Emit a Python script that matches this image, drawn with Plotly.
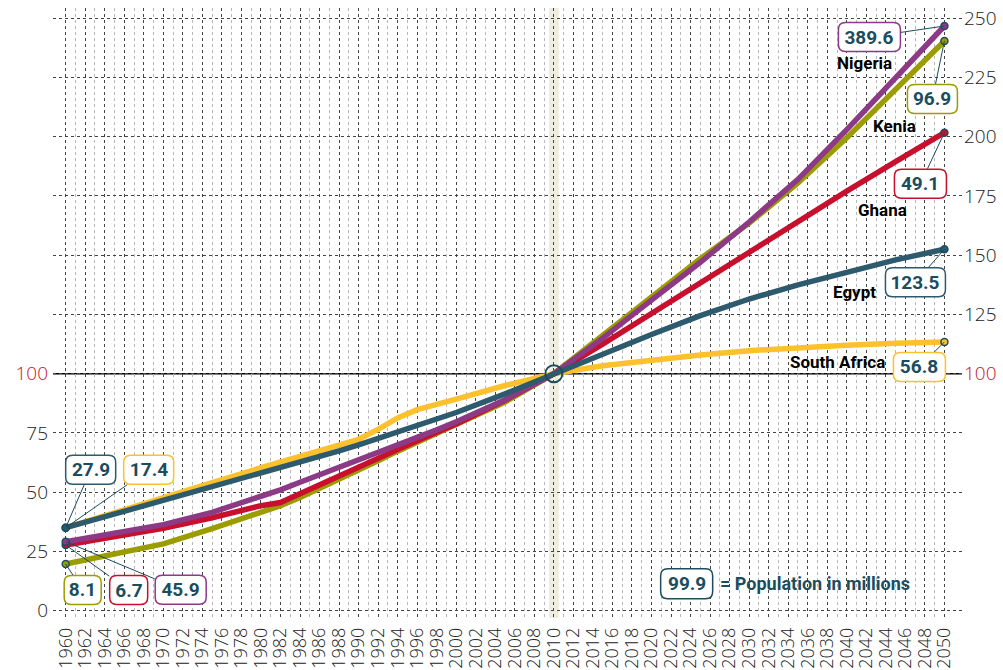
import plotly.graph_objects as go

# ---------------- data (index, 2010 = 100) ----------------
years = [1960, 1965, 1970, 1975, 1980, 1982, 1984, 1986, 1988, 1990, 1992, 1994, 1996,
         1998, 2000, 2005, 2010, 2015, 2020, 2025, 2030, 2035, 2040, 2045, 2050]

south_africa = [35.0, 41.5, 47.8, 54.0, 60.3, 62.7, 65.3, 67.7, 69.8, 72.3, 76.5, 81.3, 84.8,
                87.3, 89.3, 95.0, 100.0, 103.3, 105.8, 107.9, 109.7, 111.0, 112.0, 112.8, 113.4]
kenya = [19.7, 23.8, 28.2, 34.6, 41.3, 44.3, 47.8, 51.5, 55.3, 59.1, 63.2, 67.3, 71.0,
         74.6, 78.2, 88.0, 100.0, 116.0, 132.5, 148.5, 163.5, 180.5, 199.5, 220.0, 240.4]
ghana = [27.7, 31.3, 34.8, 39.2, 44.3, 45.6, 49.4, 53.4, 57.0, 60.8, 64.3, 68.0, 71.7,
         75.3, 78.8, 88.8, 100.0, 112.5, 125.5, 138.0, 151.0, 164.0, 177.0, 189.5, 201.7]
nigeria = [29.1, 32.5, 36.3, 41.5, 48.0, 51.0, 54.2, 57.3, 60.3, 63.3, 66.5, 69.7, 73.0,
           76.3, 79.7, 89.0, 100.0, 115.0, 131.0, 147.0, 164.0, 182.0, 203.0, 225.0, 246.7]
egypt = [35.0, 40.8, 46.3, 52.0, 58.0, 60.3, 62.3, 65.0, 67.4, 70.0, 72.8, 75.6, 78.3,
         81.0, 83.6, 91.5, 100.0, 108.5, 116.5, 124.5, 131.5, 137.5, 143.0, 148.0, 152.5]

names = ["South Africa", "Kenia", "Ghana", "Nigeria", "Egypt"]
series = [south_africa, kenya, ghana, nigeria, egypt]
pop_1960 = ["17.4", "8.1", "6.7", "45.9", "27.9"]     # millions
pop_2050 = ["56.8", "96.9", "49.1", "389.6", "123.5"]  # millions

left_ticks = [0, 25, 50, 75, 100, 125, 150, 175, 200, 225, 250]
right_ticks = [100, 125, 150, 175, 200, 225, 250]
x_ticks = list(range(1960, 2051, 2))
x_minor = list(range(1961, 2050, 2))
base_year = 2010
base_value = 100
legend_value = "99.9"
legend_text = "= Population in millions"

# ---------------- style ----------------
colors = {"South Africa": "#fcc12d", "Kenia": "#9b9c00", "Ghana": "#c8102e",
          "Nigeria": "#8d3a86", "Egypt": "#2d5a6c"}
TEAL = "#1b4d5e"
RED = "#c8102e"
COND = "Liberation Sans Narrow, Roboto, sans-serif"
TICKF = "Open Sans, Lato, sans-serif"

# label layout (pixel offsets: dx right, dy down, box width)
end_lab = {"Nigeria": (-75, 11, 62), "Kenia": (-12, 58, 50), "Ghana": (-24, 51, 52),
           "Egypt": (-29, 33, 60), "South Africa": (-25, 25, 52)}
start_lab = {"Egypt": (25, -58, 50), "South Africa": (83, -58, 50), "Kenia": (17, 26, 37),
             "Ghana": (63, 45, 38), "Nigeria": (115, 48, 51)}
name_off = {"Nigeria": (-80, 37), "Kenia": (-50, 85), "Ghana": (-62, 77),
            "Egypt": (-90, 43), "South Africa": (-107, 20)}
BOX_H = 29
LEGEND_ANCHOR = (2023.6, 11.3)


def rounded(cx, cy, w, h, r=7):
    hw, hh = w / 2, h / 2
    return (f"M{cx-hw+r},{cy-hh} L{cx+hw-r},{cy-hh} Q{cx+hw},{cy-hh} {cx+hw},{cy-hh+r} "
            f"L{cx+hw},{cy+hh-r} Q{cx+hw},{cy+hh} {cx+hw-r},{cy+hh} L{cx-hw+r},{cy+hh} "
            f"Q{cx-hw},{cy+hh} {cx-hw},{cy+hh-r} L{cx-hw},{cy-hh+r} Q{cx-hw},{cy-hh} {cx-hw+r},{cy-hh} Z")


fig = go.Figure()

for name, vals in zip(names, series):
    fig.add_trace(go.Scatter(x=years, y=vals, mode="lines", name=name,
                             line=dict(color=colors[name], width=5.5),
                             hoverinfo="skip", showlegend=False))
for name, vals in zip(names, series):
    fig.add_trace(go.Scatter(x=[years[0], years[-1]], y=[vals[0], vals[-1]], mode="markers",
                             marker=dict(size=7, color=colors[name], line=dict(color=TEAL, width=1.5)),
                             hoverinfo="skip", showlegend=False))

# base circle
fig.add_trace(go.Scatter(x=[base_year], y=[base_value], mode="markers",
                         marker=dict(size=17, color="rgba(0,0,0,0)", line=dict(color=TEAL, width=2)),
                         hoverinfo="skip", showlegend=False))
# invisible trace for right axis
fig.add_trace(go.Scatter(x=[years[0]], y=[0], yaxis="y2", mode="markers",
                         marker=dict(opacity=0), hoverinfo="skip", showlegend=False))

shapes = []
annotations = []
# 2010 band
shapes.append(dict(type="rect", xref="x", yref="paper", x0=base_year - 0.5, x1=base_year + 0.5,
                   y0=0, y1=1, fillcolor="#eeeddf", line=dict(width=0), layer="below"))
# 100 line
shapes.append(dict(type="line", xref="paper", yref="y", x0=0, x1=1, y0=base_value, y1=base_value,
                   line=dict(color="black", width=1.5), layer="below"))

for name, vals, p0, p1 in zip(names, series, pop_1960, pop_2050):
    for (xv, yv, txt, (dx, dy, w)) in [(years[-1], vals[-1], p1, end_lab[name]),
                                       (years[0], vals[0], p0, start_lab[name])]:
        shapes.append(dict(type="path", xref="x", yref="y", xsizemode="pixel", ysizemode="pixel",
                           xanchor=xv, yanchor=yv, path=rounded(dx, -dy, w, BOX_H),
                           fillcolor="white", line=dict(color=colors[name], width=1.5), layer="above"))
        annotations.append(dict(x=xv, y=yv, xref="x", yref="y", text=f"<b>{txt}</b>",
                                showarrow=True, ax=dx, ay=dy, arrowhead=0, arrowwidth=1,
                                arrowcolor=TEAL, standoff=0, width=w, height=BOX_H, borderpad=0,
                                font=dict(family=COND, size=19, color=TEAL)))
    nx, ny = name_off[name]
    annotations.append(dict(x=years[-1], y=vals[-1], xref="x", yref="y", text=f"<b>{name}</b>",
                            showarrow=False, xshift=nx, yshift=-ny,
                            font=dict(family=COND, size=17, color="black")))

# legend box
lx, ly = LEGEND_ANCHOR
shapes.append(dict(type="path", xref="x", yref="y", xsizemode="pixel", ysizemode="pixel",
                   xanchor=lx, yanchor=ly, path=rounded(0, 0, 52, 30),
                   fillcolor="white", line=dict(color=TEAL, width=1.5), layer="above"))
annotations.append(dict(x=lx, y=ly, xref="x", yref="y", text=f"<b>{legend_value}</b>",
                        showarrow=False, font=dict(family=COND, size=19, color=TEAL)))
annotations.append(dict(x=lx, y=ly, xref="x", yref="y", text=f"<b>{legend_text}</b>",
                        showarrow=False, xanchor="left", xshift=31,
                        font=dict(family=COND, size=18, color=TEAL)))

red100 = f"<span style='color:{RED}'>100</span>"
left_text = [red100 if v == 100 else (str(v) if v < 100 else "") for v in left_ticks]
right_text = [red100 if v == 100 else str(v) for v in right_ticks]

fig.update_layout(
    width=1003, height=670,
    margin=dict(l=53, r=41, t=8, b=52),
    paper_bgcolor="white", plot_bgcolor="white",
    shapes=shapes, annotations=annotations,
    xaxis=dict(range=[1958.7, 2051.8], tickvals=x_ticks, ticktext=[str(v) for v in x_ticks],
               tickangle=-90, showgrid=True, gridcolor="#444", griddash="dot", gridwidth=1,
               zeroline=False, showline=False, ticks="", ticklabelstandoff=5, automargin=False,
               tickfont=dict(family=TICKF, size=18, color="#222", weight=300),
               minor=dict(tickvals=x_minor, showgrid=True, gridcolor="#b8b8b8", griddash="dot",
                          gridwidth=1, ticks="")),
    yaxis=dict(range=[-3.1, 254.3], tickvals=left_ticks, ticktext=left_text, showgrid=True,
               gridcolor="#444", griddash="dot", gridwidth=1, zeroline=False, ticks="",
               automargin=False, ticklabelstandoff=4,
               tickfont=dict(family=TICKF, size=19, color="#222", weight=300)),
    yaxis2=dict(range=[-3.1, 254.3], overlaying="y", side="right", tickvals=right_ticks,
                ticktext=right_text, showgrid=False, zeroline=False, ticks="", ticklabelstandoff=1,
                automargin=False, tickfont=dict(family=TICKF, size=19, color="#222", weight=300)),
)

fig.write_html("out.html", config={"displayModeBar": False},
               post_script="document.body.style.margin='0px';")
